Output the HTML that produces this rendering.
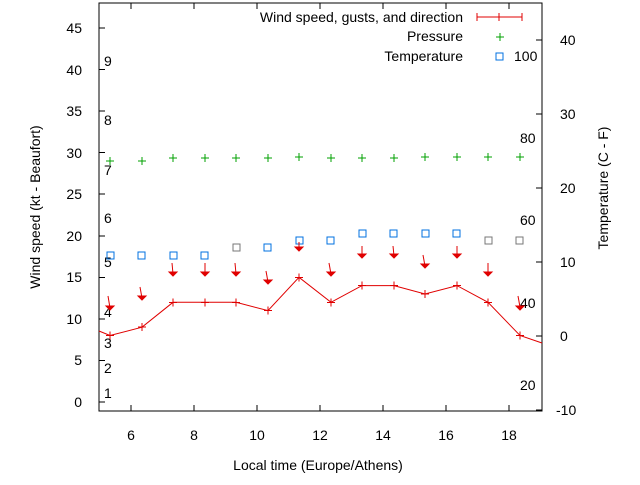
<!DOCTYPE html><html><head><style>body{margin:0;background:#fff}text{font-family:"Liberation Sans",sans-serif;font-size:14px;fill:#000}.c{shape-rendering:crispEdges}</style></head><body>
<svg width="640" height="480" xmlns="http://www.w3.org/2000/svg">
<rect class="c" x="99" y="3" width="443" height="408" fill="none" stroke="#000" stroke-width="1"/>
<g stroke="#000" class="c">
<line x1="99" y1="402" x2="105" y2="402"/><line x1="99" y1="360.4" x2="105" y2="360.4"/><line x1="99" y1="318.9" x2="105" y2="318.9"/><line x1="99" y1="277.3" x2="105" y2="277.3"/><line x1="99" y1="235.8" x2="105" y2="235.8"/><line x1="99" y1="194.2" x2="105" y2="194.2"/><line x1="99" y1="152.7" x2="105" y2="152.7"/><line x1="99" y1="111.1" x2="105" y2="111.1"/><line x1="99" y1="69.6" x2="105" y2="69.6"/><line x1="99" y1="28" x2="105" y2="28"/>
<line x1="542" y1="410" x2="536" y2="410"/><line x1="542" y1="336" x2="536" y2="336"/><line x1="542" y1="262" x2="536" y2="262"/><line x1="542" y1="188" x2="536" y2="188"/><line x1="542" y1="114" x2="536" y2="114"/><line x1="542" y1="40" x2="536" y2="40"/>
<line x1="131" y1="411" x2="131" y2="405"/><line x1="194" y1="411" x2="194" y2="405"/><line x1="257" y1="411" x2="257" y2="405"/><line x1="320" y1="411" x2="320" y2="405"/><line x1="383" y1="411" x2="383" y2="405"/><line x1="446" y1="411" x2="446" y2="405"/><line x1="509" y1="411" x2="509" y2="405"/>
<line x1="131" y1="3" x2="131" y2="9"/><line x1="194" y1="3" x2="194" y2="9"/><line x1="257" y1="3" x2="257" y2="9"/><line x1="320" y1="3" x2="320" y2="9"/><line x1="383" y1="3" x2="383" y2="9"/><line x1="446" y1="3" x2="446" y2="9"/><line x1="509" y1="3" x2="509" y2="9"/>
</g>
<g text-anchor="end">
<text x="82" y="407">0</text><text x="82" y="365">5</text><text x="82" y="324">10</text><text x="82" y="282">15</text><text x="82" y="241">20</text><text x="82" y="199">25</text><text x="82" y="158">30</text><text x="82" y="116">35</text><text x="82" y="75">40</text><text x="82" y="33">45</text>
</g>
<g>
<text x="556" y="415">-10</text><text x="560" y="341">0</text><text x="560" y="267">10</text><text x="560" y="193">20</text><text x="560" y="119">30</text><text x="560" y="45">40</text>
</g>
<g text-anchor="middle">
<text x="131" y="440">6</text><text x="194" y="440">8</text><text x="257" y="440">10</text><text x="320" y="440">12</text><text x="383" y="440">14</text><text x="446" y="440">16</text><text x="509" y="440">18</text>
<text x="318" y="470">Local time (Europe/Athens)</text>
<text transform="translate(40,207) rotate(-90)">Wind speed (kt - Beaufort)</text>
<text transform="translate(608,188) rotate(-90)">Temperature (C - F)</text>
</g>
<g>
<text x="104" y="398">1</text><text x="104" y="373">2</text><text x="104" y="348">3</text><text x="104" y="317">4</text><text x="104" y="267">5</text><text x="104" y="223">6</text><text x="104" y="175">7</text><text x="104" y="125">8</text><text x="104" y="66">9</text>
<text x="520" y="390">20</text><text x="520" y="308">40</text><text x="520" y="225">60</text><text x="520" y="143">80</text><text x="514" y="61">100</text>
</g>
<g text-anchor="end"><text x="463" y="22">Wind speed, gusts, and direction</text><text x="463" y="41">Pressure</text><text x="463" y="61">Temperature</text></g>
<g stroke="#e00000" class="c"><line x1="477" y1="17" x2="522" y2="17"/><line x1="477" y1="13" x2="477" y2="21"/><line x1="522" y1="13" x2="522" y2="21"/><line x1="499" y1="13" x2="499" y2="21"/></g>
<path class="c" d="M496 37h8M500 33v8" stroke="#00a000"/>
<rect class="c" x="496" y="53" width="7" height="7" fill="none" stroke="#0070e0"/>
<polyline fill="none" stroke="#e00000" points="99,331 110,335.5 142,327.2 173,302.3 205,302.3 236,302.3 268,310.6 299,277.3 331,302.3 362,285.6 394,285.6 425,294 457,285.6 488,302.3 520,335.5 542,343"/>
<g stroke="#e00000" class="c">
<path d="M106 335.5h8M110 331.5v8M138 327.2h8M142 323.2v8M169 302.3h8M173 298.3v8M201 302.3h8M205 298.3v8M232 302.3h8M236 298.3v8M264 310.6h8M268 306.6v8M295 277.3h8M299 273.3v8M327 302.3h8M331 298.3v8M358 285.6h8M362 281.6v8M390 285.6h8M394 281.6v8M421 294h8M425 290v8M453 285.6h8M457 281.6v8M484 302.3h8M488 298.3v8M516 335.5h8M520 331.5v8"/>
</g>
<g stroke="#00a000" class="c">
<path d="M106 161h8M110 157v8M138 161h8M142 157v8M169 158h8M173 154v8M201 158h8M205 154v8M232 158h8M236 154v8M264 158h8M268 154v8M295 157h8M299 153v8M327 158h8M331 154v8M358 158h8M362 154v8M390 158h8M394 154v8M421 157h8M425 153v8M453 157h8M457 153v8M484 157h8M488 153v8M516 157h8M520 153v8"/>
</g>
<g fill="none" stroke="#0070e0" class="c">
<rect x="107" y="252" width="7" height="7"/><rect x="138" y="252" width="7" height="7"/><rect x="170" y="252" width="7" height="7"/><rect x="201" y="252" width="7" height="7"/><rect x="264" y="244" width="7" height="7"/><rect x="296" y="237" width="7" height="7"/><rect x="327" y="237" width="7" height="7"/><rect x="359" y="230" width="7" height="7"/><rect x="390" y="230" width="7" height="7"/><rect x="422" y="230" width="7" height="7"/><rect x="453" y="230" width="7" height="7"/>
</g>
<g fill="none" stroke="#777" class="c"><rect x="233" y="244" width="7" height="7"/><rect x="485" y="237" width="7" height="7"/><rect x="516" y="237" width="7" height="7"/></g>
<g stroke="#e00000" fill="#e00000">
<path d="M108 296l2 12"/><path d="M106 306h8l-4 4z"/>
<path d="M140 287l2 11"/><path d="M138 296h8l-4 4z"/>
<path d="M172 263l1 11"/><path d="M169 272h8l-4 4z"/>
<path d="M205 263v11"/><path d="M201 272h8l-4 4z"/>
<path d="M235 263l1 11"/><path d="M232 272h8l-4 4z"/>
<path d="M266 271l2 11"/><path d="M264 280h8l-4 4z"/>
<path d="M299 242v7"/><path d="M295 247h8l-4 4z"/>
<path d="M329 263l2 11"/><path d="M327 272h8l-4 4z"/>
<path d="M362 246v10"/><path d="M358 254h8l-4 4z"/>
<path d="M393 246l1 10"/><path d="M390 254h8l-4 4z"/>
<path d="M423 255l2 11"/><path d="M421 264h8l-4 4z"/>
<path d="M457 246v10"/><path d="M453 254h8l-4 4z"/>
<path d="M488 263v11"/><path d="M484 272h8l-4 4z"/>
<path d="M518 296l2 11"/><path d="M516 306h8l-4 4z"/>
</g>
</svg></body></html>
